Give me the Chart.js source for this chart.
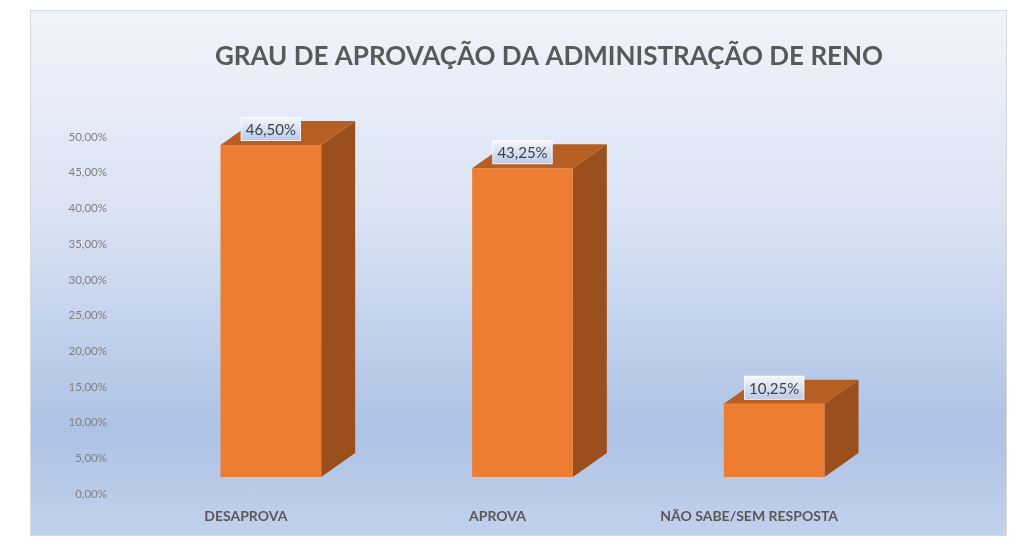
<!DOCTYPE html>
<html>
<head>
<meta charset="utf-8">
<script src="https://cdn.jsdelivr.net/npm/chart.js@4.4.0/dist/chart.umd.min.js"></script>
<style>
  body { margin: 0; background: #fff; }
  .wrap { position: relative; width: 1024px; height: 555px; }
  .frame {
    position: absolute; left: 30px; top: 10px; width: 975px; height: 524px;
    border: 1px solid #d9d9d9;
    background: linear-gradient(to bottom, #f0f3fa 0%, #d9e2f3 40%, #adc2e5 80%, #c2d1ec 100%);
  }
  canvas { position: absolute; left: 0; top: 0; }
</style>
</head>
<body>
<div class="wrap">
  <div class="frame"></div>
  <canvas id="approval" width="1024" height="555"></canvas>
</div>
<script>
const title = 'GRAU DE APROVAÇÃO DA ADMINISTRAÇÃO DE RENO';
const categories = ['DESAPROVA', 'APROVA', 'NÃO SABE/SEM RESPOSTA'];
const approval = [46.5, 43.25, 10.25];
const yTicks = [0, 5, 10, 15, 20, 25, 30, 35, 40, 45, 50];

function pct(v) {
  return v.toFixed(2).replace('.', ',') + '%';
}

// fake 3d: front face pushed right/up, then side and top faces behind it
const shiftX = 25;
const shiftY = -17;
const depthX = 34;
const depthY = -24;

const bars3d = {
  id: 'bars3d',
  afterDatasetsDraw(chart) {
    const ctx = chart.ctx;
    const meta = chart.getDatasetMeta(0);
    ctx.save();
    meta.data.forEach((bar, i) => {
      const p = bar.getProps(['x', 'y', 'base', 'width'], true);
      const l = p.x - p.width / 2 + shiftX;
      const r = p.x + p.width / 2 + shiftX;
      const t = p.y + shiftY;
      const b = p.base + shiftY;

      // side
      ctx.fillStyle = '#9a4f1d';
      ctx.beginPath();
      ctx.moveTo(r, b);
      ctx.lineTo(r + depthX, b + depthY);
      ctx.lineTo(r + depthX, t + depthY);
      ctx.lineTo(r, t);
      ctx.closePath();
      ctx.fill();

      // top
      ctx.fillStyle = '#b55f23';
      ctx.beginPath();
      ctx.moveTo(l, t);
      ctx.lineTo(l + depthX, t + depthY);
      ctx.lineTo(r + depthX, t + depthY);
      ctx.lineTo(r, t);
      ctx.closePath();
      ctx.fill();

      // front
      ctx.fillStyle = '#ed7d31';
      ctx.fillRect(l, t, r - l, b - t);

      // value label
      const text = pct(approval[i]);
      ctx.font = '15px Lato';
      const w = ctx.measureText(text).width + 10;
      const h = 24;
      const cx = (l + r) / 2;
      const bx = cx - w / 2;
      const by = t - 4 - h;
      const g = ctx.createLinearGradient(0, by, 0, by + h);
      g.addColorStop(0, '#f6f8fc');
      g.addColorStop(1, '#b9c9e7');
      ctx.fillStyle = g;
      ctx.fillRect(bx, by, w, h);
      ctx.strokeStyle = 'rgba(255,255,255,0.7)';
      ctx.lineWidth = 1;
      ctx.strokeRect(bx + 0.5, by + 0.5, w - 1, h - 1);
      ctx.fillStyle = '#404040';
      ctx.textAlign = 'center';
      ctx.textBaseline = 'middle';
      ctx.fillText(text, cx, by + h / 2 + 1);
    });
    ctx.restore();
  },
  afterDraw(chart) {
    const ctx = chart.ctx;
    ctx.save();
    ctx.font = 'bold 26px Lato';
    ctx.fillStyle = '#595959';
    ctx.textAlign = 'center';
    ctx.textBaseline = 'middle';
    ctx.fillText(title, 549, 57);
    ctx.restore();
  },
};

let ctx = document.getElementById('approval').getContext('2d');
new Chart(ctx, {
  type: 'bar',
  data: {
    labels: categories,
    datasets: [
      {
        data: approval,
        backgroundColor: 'rgba(0,0,0,0)',
        borderWidth: 0,
        barPercentage: 0.4,
        categoryPercentage: 1,
      },
    ],
  },
  options: {
    responsive: false,
    animation: false,
    layout: {
      padding: { left: 30, right: 149, top: 137, bottom: 0 },
    },
    plugins: {
      legend: { display: false },
      tooltip: { enabled: false },
    },
    scales: {
      x: {
        grid: { display: false, drawTicks: false },
        border: { display: false },
        ticks: {
          padding: 14,
          color: '#595959',
          font: { family: 'Lato', size: 14, weight: 'bold' },
        },
        afterFit(s) {
          s.height = 61;
        },
      },
      y: {
        min: 0,
        max: 50,
        grid: { display: false, drawTicks: false },
        border: { display: false },
        afterBuildTicks(s) {
          s.ticks = yTicks.map((v) => ({ value: v }));
        },
        ticks: {
          padding: 13,
          color: '#808080',
          font: { family: 'Lato', size: 11.5 },
          callback: (v) => pct(v),
        },
        afterFit(s) {
          s.width = 90;
        },
      },
    },
  },
  plugins: [bars3d],
});
</script>
</body>
</html>
